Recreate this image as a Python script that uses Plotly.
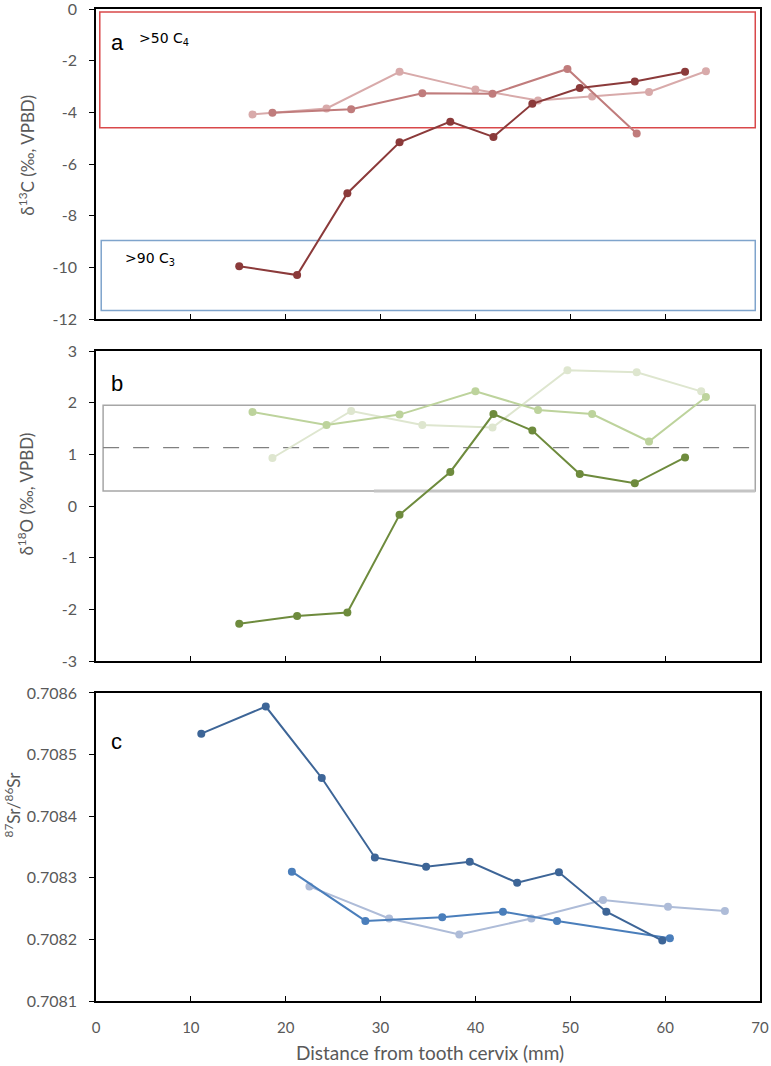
import plotly.graph_objects as go

# ---------------- data ----------------
# Panel a: delta13C
a_dark_x = [15.1, 21.2, 26.5, 32.0, 37.35, 41.9, 46.0, 51.0, 56.8, 62.1]
a_dark_y = [-9.96, -10.30, -7.13, -5.16, -4.36, -4.95, -3.67, -3.06, -2.81, -2.43]
a_mid_x = [18.6, 26.9, 34.4, 41.8, 49.7, 57.0]
a_mid_y = [-4.02, -3.88, -3.26, -3.28, -2.32, -4.82]
a_light_x = [16.5, 24.3, 32.0, 40.0, 46.6, 52.3, 58.3, 64.3]
a_light_y = [-4.08, -3.85, -2.43, -3.12, -3.54, -3.39, -3.21, -2.41]

# Panel b: delta18O
b_dark_x = [15.1, 21.2, 26.5, 32.0, 37.35, 41.9, 46.0, 51.0, 56.8, 62.1]
b_dark_y = [-2.28, -2.13, -2.06, -0.17, 0.66, 1.78, 1.46, 0.62, 0.44, 0.94]
b_mid_x = [16.5, 24.3, 32.0, 40.0, 46.6, 52.3, 58.3, 64.3]
b_mid_y = [1.82, 1.57, 1.77, 2.22, 1.86, 1.78, 1.25, 2.11]
b_light_x = [18.6, 26.9, 34.4, 41.8, 49.7, 57.0, 63.8]
b_light_y = [0.93, 1.84, 1.57, 1.52, 2.63, 2.59, 2.22]

# Panel c: 87Sr/86Sr
c_dark_x = [11.1, 17.9, 23.8, 29.4, 34.8, 39.4, 44.4, 48.8, 53.8, 59.7]
c_dark_y = [0.708534, 0.708578, 0.708462, 0.708333, 0.708318, 0.708326, 0.708292, 0.708309, 0.708245, 0.708198]
c_mid_x = [20.65, 28.4, 36.5, 42.9, 48.6, 60.5]
c_mid_y = [0.708310, 0.708230, 0.708236, 0.708245, 0.708230, 0.708202]
c_light_x = [22.5, 30.9, 38.3, 45.9, 53.45, 60.3, 66.3]
c_light_y = [0.708286, 0.708234, 0.708208, 0.708234, 0.708264, 0.708253, 0.708246]

# reference ranges
c4_box = [0.4, 69.5, -4.6, -0.12]
c3_box = [0.55, 69.5, -11.67, -8.96]
o_box = [0.75, 69.5, 0.29, 1.95]
o_mean = 1.13

x_ticks = [0, 10, 20, 30, 40, 50, 60, 70]
ya_ticks = [0, -2, -4, -6, -8, -10, -12]
yb_ticks = [3, 2, 1, 0, -1, -2, -3]
yc_ticks = [0.7081, 0.7082, 0.7083, 0.7084, 0.7085, 0.7086]

# ---------------- figure ----------------
fig = go.Figure()

def add_series(x, y, color, xa, ya):
    fig.add_trace(go.Scatter(
        x=x, y=y, mode="lines+markers",
        line=dict(color=color, width=2),
        marker=dict(color=color, size=8),
        xaxis=xa, yaxis=ya, showlegend=False, hoverinfo="x+y"))

add_series(a_light_x, a_light_y, "#D8AAAA", "x", "y")
add_series(a_mid_x, a_mid_y, "#C07C7C", "x", "y")
add_series(a_dark_x, a_dark_y, "#8B3A3A", "x", "y")

add_series(b_light_x, b_light_y, "#DEE6CF", "x2", "y2")
add_series(b_mid_x, b_mid_y, "#BDD39C", "x2", "y2")
add_series(b_dark_x, b_dark_y, "#6E8B3D", "x2", "y2")

add_series(c_light_x, c_light_y, "#AEBCD8", "x3", "y3")
add_series(c_mid_x, c_mid_y, "#4A7EBB", "x3", "y3")
add_series(c_dark_x, c_dark_y, "#3D6597", "x3", "y3")

# boxes and lines
fig.add_shape(type="rect", xref="x", yref="y", x0=c4_box[0], x1=c4_box[1], y0=c4_box[2], y1=c4_box[3],
              line=dict(color="#D9484A", width=1.5), layer="below")
fig.add_shape(type="rect", xref="x", yref="y", x0=c3_box[0], x1=c3_box[1], y0=c3_box[2], y1=c3_box[3],
              line=dict(color="#7FA4CC", width=1.5), layer="below")
fig.add_shape(type="rect", xref="x2", yref="y2", x0=o_box[0], x1=o_box[1], y0=o_box[2], y1=o_box[3],
              line=dict(color="#A6A6A6", width=1.5), layer="below")
fig.add_shape(type="line", xref="x2", yref="y2", x0=29.3, x1=o_box[1], y0=o_box[2], y1=o_box[2],
              line=dict(color="#C4C4C4", width=3), layer="below")
fig.add_shape(type="line", xref="x2", yref="y2", x0=o_box[0], x1=o_box[1], y0=o_mean, y1=o_mean,
              line=dict(color="#808080", width=1.2, dash="16px,14px"), layer="below")

# annotations
def label(text, x, y, xr, yr, size, fam="Liberation Sans"):
    fig.add_annotation(text=text, x=x, y=y, xref=xr, yref=yr, showarrow=False,
                       xanchor="left", yanchor="middle",
                       font=dict(size=size, color="#000000", family=fam))

label("a", 1.4, -1.3, "x", "y", 22)
label("&gt;50 C<sub>4</sub>", 4.3, -1.15, "x", "y", 14, "DejaVu Sans")
label("&gt;90 C<sub>3</sub>", 2.8, -9.67, "x", "y", 14, "DejaVu Sans")
label("b", 1.4, 2.38, "x2", "y2", 22)
label("c", 1.4, 0.708521, "x3", "y3", 22)

ttf = dict(family="Lato", size=17, color="#595959")

def ytitle(text, x, y):
    fig.add_annotation(text=text, x=x, y=y, xref="paper", yref="paper", showarrow=False,
                       textangle=-90, xanchor="center", yanchor="middle", font=ttf)

ytitle("δ<sup>13</sup>C (‰, VPBD)", -0.106, 0.8528)
ytitle("δ<sup>18</sup>O (‰, VPBD)", -0.106, 0.5111)
ytitle("<sup>87</sup>Sr/<sup>86</sup>Sr", -0.1257, 0.1976)

fig.add_annotation(text="Distance from tooth cervix (mm)", x=0.5026, y=-0.0524, xref="paper", yref="paper",
                   showarrow=False, xanchor="center", yanchor="middle",
                   font=dict(family="Lato", size=19, color="#595959"))

axis_common = dict(showline=True, linecolor="#000000", linewidth=1.5, mirror=True,
                   showgrid=False, zeroline=False, automargin=False, ticklabeloverflow="allow")

xa = dict(range=[0, 70], tickvals=x_ticks, ticks="inside", ticklen=5, tickcolor="#000000",
          tickfont=dict(family="Lato", size=15, color="#595959"), ticklabelstandoff=12, **axis_common)

ytf = dict(family="Lato", size=16, color="#595959")
ya = dict(ticks="outside", ticklen=5, tickcolor="#000000", tickfont=ytf, ticklabelstandoff=9, **axis_common)

fig.update_layout(
    width=771, height=1066,
    margin=dict(l=95.5, r=11, t=9, b=65),
    plot_bgcolor="#FFFFFF", paper_bgcolor="#FFFFFF",
    xaxis=dict(domain=[0, 1], anchor="y", showticklabels=False, **xa),
    xaxis2=dict(domain=[0, 1], anchor="y2", showticklabels=False, **xa),
    xaxis3=dict(domain=[0, 1], anchor="y3", **xa),
    yaxis=dict(domain=[0.6875, 1.0], anchor="x", range=[-12, 0], tickvals=ya_ticks,
               ticktext=[str(v) for v in ya_ticks], **ya),
    yaxis2=dict(domain=[0.3427, 0.6552], anchor="x2", range=[-3, 3], tickvals=yb_ticks,
                ticktext=[str(v) for v in yb_ticks], **ya),
    yaxis3=dict(domain=[0, 0.3105], anchor="x3", range=[0.7081, 0.7086],
                tickvals=yc_ticks, ticktext=["%.4f" % v for v in yc_ticks], **ya),
)

fig.write_html("out.html", config={"displayModeBar": False},
               post_script="document.body.style.margin='0';document.body.style.overflow='hidden';")
